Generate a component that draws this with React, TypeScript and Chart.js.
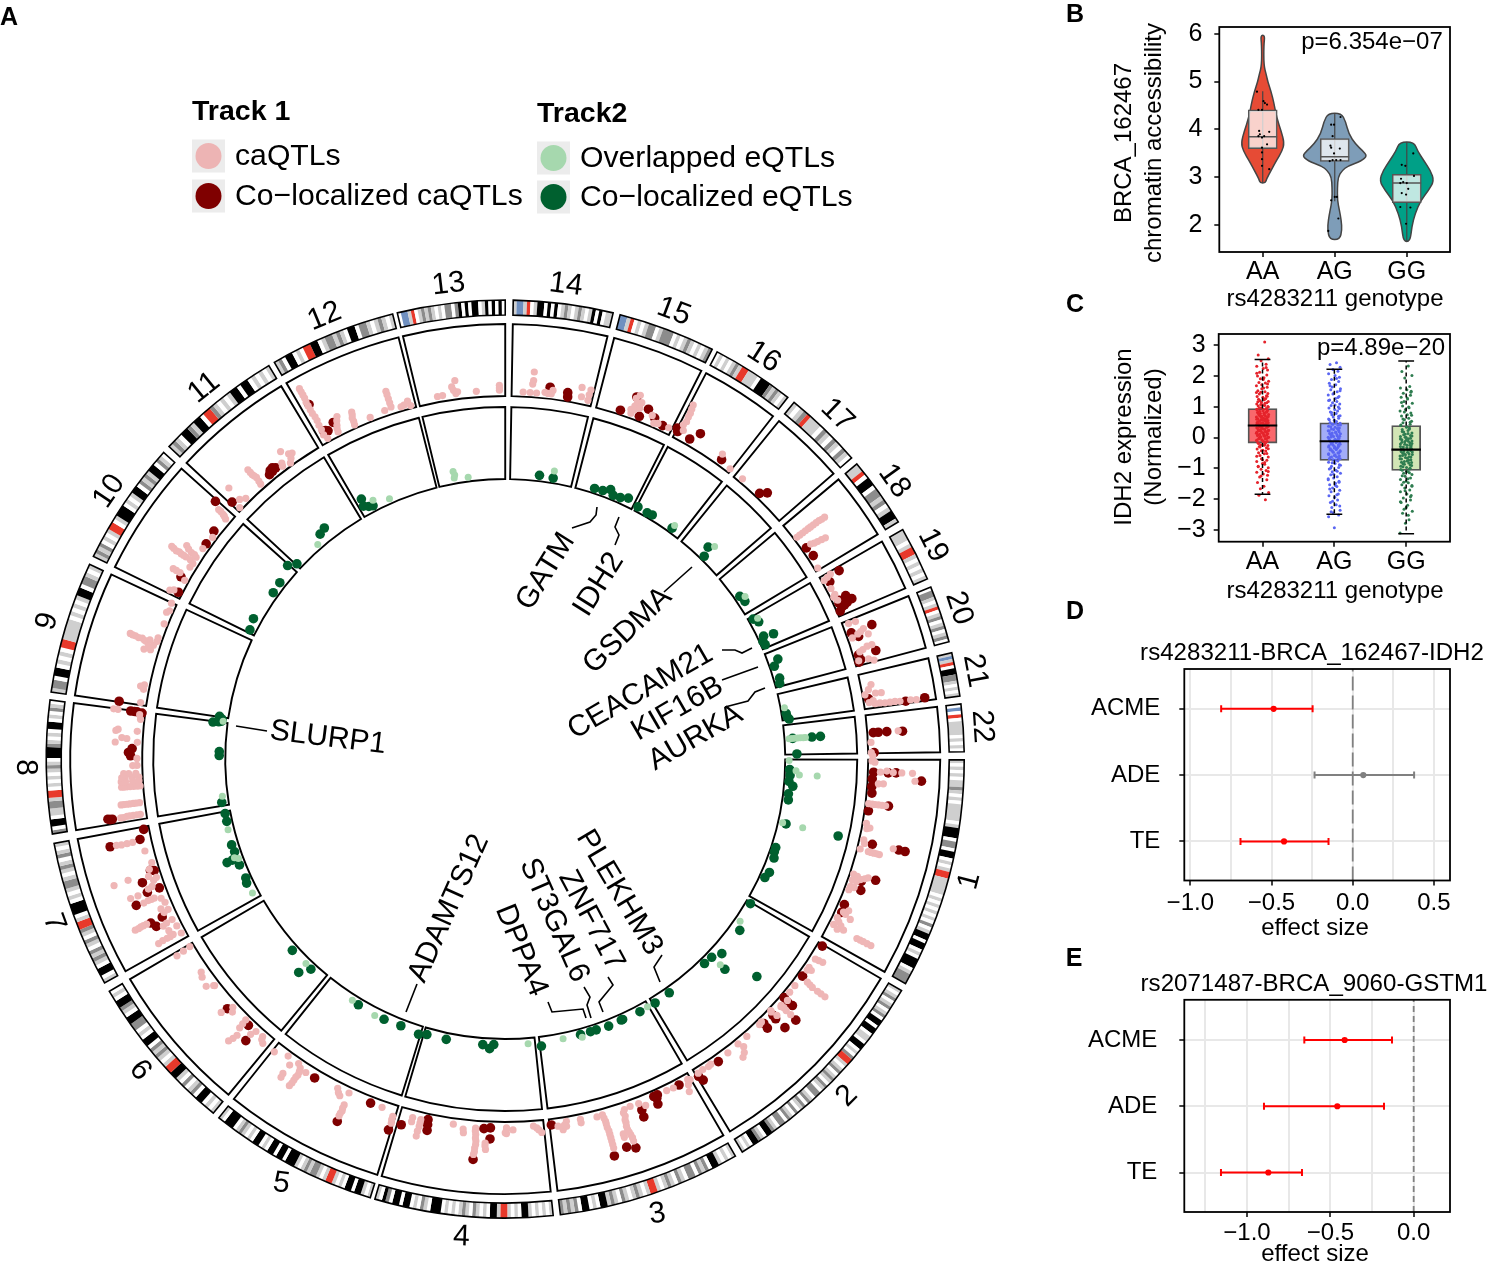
import React, { useEffect, useRef } from "react";
import { Chart, registerables } from "chart.js";
Chart.register(...registerables);

const FONT = '"Liberation Sans", Arial, sans-serif';

// ---------- Panel A: circular genome ----------
const chromNames = ["1","2","3","4","5","6","7","8","9","10","11","12","13","14","15","16","17","18","19","20","21","22"];
const chromStart = [0.1,30.3,59.9,84,107.1,129.5,150.8,170.6,188.4,206.2,222.9,239.8,256.4,271,284.5,297.5,309,320,330,338,346.6,353.1];
const chromEnd = [29.3,58.9,83.1,106.5,128.6,149.6,169.4,187.4,205.1,221.9,239,255.8,270,283.6,296.8,308,319,328.9,336.9,345.2,352.1,359.1];
const chromBands = [
  "lwlwlwllmlwlwlllllwlkkkwmmwkkwlwlrrlllllwlwlwlwlwmwlkkwkkwlwkkkwlmmm",
  "lwlmwlmwlmwkkwkkwllwkkwlwmrrlwlmwlmlwmlwmmwlmwmlwmwlmwmmwlmkkwlmkkwlwl",
  "lwlwlkkwmlmwmmwlmwlmlwlrrlwlmlwlmwlmlkkwlwkkwmlmlm",
  "lwlwlwlkkwlwlrrlkkwlwlmwlmlwlwlwkkkwlmwlwkkwkkwmkwl",
  "lwlkkwkkwlwlrrlwlmmlmlwlkkkwkkwkkwlwkkwlwlmlwkkkwl",
  "lwlwkkwmlwmwlkkrrlwlmlmwkkwlwmmkkwlmkkwlw",
  "lwkkwlmlmwlmwlmrrlwkkkwlwlmmlwlmlwmlwl",
  "mwkkwllmmlrrwlwlwlmlwkkkmlwlwkkwlwmlw",
  "lmmwkkwlwlwrrlllllwlwlwlkkwmmlwl",
  "lmlmwlwlrrwlkkkwlwlkkwmlmlkkwmlw",
  "lmlwkkmlkkwrrmlwlwlkkwkkwlwlwl",
  "lmwkkwlwrrkkwlmmlmlwkkwmmlwlmlwl",
  "wbblrwlmlmlwlwmmwmkwkwkkwlkwkwkw",
  "lbblrwlkkwkwkwlmlwlmlwlkwkwll",
  "bblrwlwlmmwlmmmwlwlmlwlwlm",
  "wlwlwlmlrrlllwkkkmlmlwl",
  "lwlmrlllwmlwmlwmlw",
  "llrwkkwmmlmwlkkl",
  "lllwlrrlwlwlwl",
  "wmmlwlrwlmwlmwlmw",
  "lblrwkkmmlwlwl",
  "wbwrwllllwlwlw",
];

// [genome position on the circle in degrees, height in % of the track]
const caQTLs: number[][] = [
  [0.3,10],[0.5,14],[2,22],[1.8,31],[2,52],[2,67],[3.1,71],[3.75,27],[3.8,20],[2,40],[7,9],[7,14],[7,18],[7,23],[7,28],[7,33],[10.1,10],[10.7,16],[10.9,12],[12.7,11],[13.2,13],[14.2,9],[14.3,21],[14.3,25],[14.3,29],[14.3,33],[14.3,37],[13,54],[18.25,10],[18.4,16],[18.7,22],[18.4,27],[18.1,31],[19.2,11],[19.2,17],[20.2,11.5],[20.8,11],[20.2,17],[23.8,22],[24.9,29],[25.5,11.5],[26.7,11],[26.4,21],[26.8,27],[27.1,18.5],[26,16],[27,49],[27,54],[27,59],[27,65],[27,71],[24.5,20],[24.3,16],
  [32.8,13],[32.6,24],[32.7,18],[34.4,12],[34.9,12],[34.6,17],[36.4,22],[36.6,32],[36.6,41],[36.6,54],[36.6,47],[36.5,27],[38,11],[39.3,11],[41.7,14],[41.8,24],[41.8,32.5],[41.7,19],[43.4,8],[45.7,10],[48.9,11],[50.7,11],[50.3,19],[50.8,26],[51.4,30],[52.8,12],[56.5,12],[56,11],[58.4,12],[57.5,11],[46.2,11],[43.5,10],[41.9,15],[43.3,19],[40.5,16],
  [60,14],[60.6,19],[61,28],[60.3,12],[62.9,13],[64,12],[67.9,19],[68.8,13],[70.2,12.5],[71.2,14],[71.4,23],[71.6,32],[71.7,42],[71.5,50],[71.4,60],[71.5,18],[71.6,28],[71.7,37],[71.6,46],[71.4,55],[72.5,51],[72.5,46],[74.7,12],[74.5,22],[74.5,31],[74.4,41],[74.4,51],[74.4,61],[74.6,17],[74.5,26],[74.4,36],[74.4,46],[74.4,56],[75.6,13],[78.2,16],[78.2,11],[80.4,10],[81.1,21],[80.8,15],[81.8,15],[80.5,17],
  [84.4,21],[85.1,14],[85.6,11],[84.8,17],[88.8,15],[89.8,12],[89.8,20],[89.8,14],[90,19],[94.6,14],[94.5,23],[94.4,32],[94.5,42],[94.6,51],[94.6,18],[94.5,28],[94.4,37],[94.5,47],[93,34],[92.9,43],[93,38],[96.5,17],[96.4,22],[98.1,12],[103.2,14],[103.2,24],[103.3,31],[103.3,38],[103.2,19],[104.5,14],[104.5,20],
  [107.5,20],[107.4,30],[107.5,25],[109.5,13],[115,30],[114.9,39],[115,47],[115,35],[115,43],[117,13],[116.6,18],[116.2,21],[115.1,12],[122.5,16],[124.2,11],[123.6,15],[123.3,25],[123.4,34],[123.5,44],[123.4,20],[123.4,29],[123.4,39],[125.2,20],[126.2,11],[125.3,35],[125.2,41],[128.3,18],
  [131.2,12],[130.5,19],[132.5,13],[132.8,21],[134.9,11],[134.2,35],[134.5,49],[137.7,12],[137.2,17],[138.3,29],[142.1,12],[145,16],[144.3,19],[142.8,22],[142.2,13],[149.1,32],[149.2,21],[149.3,10],[131,16],[134.3,42],[134.8,18],[134.7,25],
  [151.8,11],[153.1,12],[152.2,22],[152.1,32],[152,46],[152.1,39],[152.1,27],[154.3,14],[154.2,23],[154,29],[155.3,49],[155.3,58],[155.2,67],[155.3,54],[155.2,62],[156,13],[157.2,13],[158.4,25],[158.4,34],[158.3,41],[158.4,29],[159.6,45],[159.6,56],[160.2,22],[161.3,12],[161.8,22],[162.2,51],[162.1,72],[163.7,12],[165.7,17],[167.4,31],[167.4,39],[167.5,54],[167.4,47],[158,16],[155.8,20],[153,25],[161,17],[160,28],[156.5,22],[162.8,18],
  [171.4,13],[171.4,23],[171.4,32],[171.3,41],[171.4,18],[171.4,28],[171.3,37],[173.2,12],[173.2,21],[173.2,30],[173.2,38],[173.2,17],[173.2,26],[173.2,34],[175.8,9],[175.8,18],[175.8,27],[175.8,35],[175.8,13],[175.8,23],[175.8,31],[177.2,10],[177.2,19],[177.2,29],[176.6,10],[176.6,19],[176.6,29],[176.6,35],[177.2,34],[177.8,14],[177.8,24],[177.8,31],[179,12],[179,18],[180.1,12],[182.6,12],[184.3,13],[184.4,40],[184.2,43],[183.2,34],[182.5,43],[183.1,27],[186.2,10],[187.3,49],[187.3,43],[186.9,12],
  [191.6,12],[190.9,12],[188.8,13],[201.6,10],[203.4,13],[203.8,10],[199.2,11],[197.1,16],[196.9,25],[198.5,21],[198.4,32],[198.4,42],[198.5,50],[197.9,14],[198.1,25],[198.2,28],[198.3,37],[198.4,46],[198.6,11],[205,12],[197.5,20],[191.3,17],
  [206.7,22],[207,17],[209.8,32],[209.8,21],[209.1,10],[209.8,27],[211.3,13],[212,12],[212.3,25],[212.3,33],[212.3,41],[212.5,50],[212.3,18],[212.3,29],[212.4,37],[212.4,46],[213.1,13],[213.3,22],[213.8,33],[213.3,17],[213.5,28],[214.8,12],[217.1,10],[220.6,12],[220.9,19],[221,28],[220.8,16],[221,24],
  [223.4,8],[225.1,11],[224.3,16],[224.4,38],[228.3,11],[228.5,22],[228.3,29],[228.3,38],[228.4,16],[228.4,26],[228.3,33],[233.8,29],[232.7,11],[234.5,13],[234,8],[235.1,18],[234.6,20],[232.9,15],
  [240.9,89],[240.9,79],[240.8,68],[240.8,56],[240.9,44],[240.8,31],[240.7,16],[241,9],[240.9,84],[240.9,74],[240.8,62],[240.8,50],[240.9,38],[240.8,24],[243.8,30],[243.2,19],[242.9,10],[243.5,25],[243,15],[246.1,27],[245.8,19],[245.7,9],[246,23],[245.8,14],[248.4,10],[252,37],[252,26],[252,14],[252,32],[252,20],[250.9,12],[253.5,10],[254.7,15],[255,8],[254,11],
  [259.4,12],[260.2,12],[261.8,22],[262.4,30],[262.3,12],[262.6,14],[262,17],[265.5,12],[269.1,19],[269.1,12],[269.1,15],
  [274.3,39],[274.3,27],[274.2,22],[273.9,10],[274.9,10],[276.2,12],[277.4,16],[276.7,11],[277.2,11],[281.7,27],[283.1,26],[283,11],[281.9,14],[283,19],[272.8,10],
  [290.4,39],[290.4,27],[290.3,17],[290,11],[290.2,22],[289.8,16],[290,33],[293.2,19],[293.9,10],[296.3,13],[291,22],[291,30],[294.5,12],
  [298,57],[298.2,45],[298.3,32],[298.1,26],[298.1,51],[298.2,39],[305.5,20],[307.8,10],[298.5,19],[310.3,10],
  [322.9,57],[322.8,48],[322.8,38],[322.8,29],[322.8,19],[322.8,9],[322.9,52],[322.8,43],[322.8,33],[322.8,24],[322.8,14],[324.9,19],[325.2,29],[325.4,41],[325.1,24],[325.3,35],[328.6,9],
  [330.4,20],[330.8,8],[332.4,11],[333.8,9],[333.5,12],[330.6,14],[334.5,12],
  [338.6,23],[338.5,13],[340,30],[341,34],[340.8,11],[342.7,34],[342.7,27],[345,31],[340.5,20],[340.3,25],[343,20],[343.2,15],[344.5,10],[344.6,24],
  [348.5,19],[349.2,14],[350,31],[349.9,23],[349.9,8],[351.5,27],[351.6,41],[351.7,55],[351.8,78],[351.6,34],[351.6,48],[351.2,12],[351,18],[351.7,70],[351.5,20],
  [355.9,48],[357.4,9],[359,9],[359.5,11],
];
const coCaQTLs: number[][] = [
  [2.05,12.5],[2.07,33],[2.03,44],[3.04,80],[3.09,11],[4.3,11],[5.3,12],[7,37],[8.1,10],[13.06,24],[13,62],[13,71],[18.95,23.5],[18.1,42],[20.25,27],[23.2,13],[24.46,14],
  [30.5,11.6],[36.1,11.6],[40.5,10],[40.7,18],[40.6,26],[43.7,15],[43.8,21],[41.9,43],[45.6,14],[45.7,22],[43.8,39],[54.8,14],[58.6,16],[58.3,24],
  [61.9,13],[65.6,12],[66.2,12],[66.1,24],[65.9,16],[68.7,23],[68.8,33],[71.4,70],[72.6,65],[74.6,72],[82.8,12],
  [92.3,28],[92.3,12.5],[93.3,14],[94.6,58],[102.1,12],[102,19],[101.9,27],[105.9,28],
  [107.5,40],[111.4,13],[114.9,55],[120.9,16],[138.1,19],[134,14],[132.7,32],
  [155.2,43],[154.4,38],[155.3,25],[158.4,52],[159.6,31],[159.6,13],[161.2,33],[162.6,17],[162.4,12],[167.6,20],[167.5,63],[169,12],
  [171.3,53],[171.4,59],[171.3,56],[181.6,19],[180.5,21],[181,24],[187.3,25],[187.3,16],[187.2,9],[187.3,20],[188.5,43],
  [207,10],[209.3,17],[215.7,12],[218,14],[221.6,39],
  [223.2,21],[230.3,13],[231.7,15],[231,14],[230.8,17],[231.3,18],
  [241,63],[242.9,25],[241,21],[241.6,18],[241.3,20],
  [276.9,20],[279.7,16],[279.8,10],
  [290,35],[288.3,10],[291.4,11],[292.3,25],[293.7,17],[295.3,12],
  [297.5,18],[298,18],[297.8,14],[300,13],[301,27],[305.9,13],[313.8,11],[314.6,19],[325,11],[326.6,13],
  [330.6,33],[331.4,14],[334.4,25],[335.2,31],[335,12],[335.7,14],[336.2,9],[335.4,23],[334.6,14],[335.6,18],
  [339.9,43],[340,12],[340.9,20],[343.7,37],[343.6,12],[344.4,13],[344.7,10],
  [350.6,12],[351.8,63],[351.7,90],[355.9,13],[355.9,20],[355.9,32],[356,54],[359,13],
];
const overlappedEQTLs: number[][] = [
  [2.3,19],[3.1,24],[3.1,49],[13,39],[12.9,10],[0.3,9],[34.6,11],[43.7,28],[60.1,11],[78.3,11],[74.5,15],[85.4,11],[117,14],[122.4,11],[134.3,11],[152.1,12],[159.6,10],[160,15],[165.7,12],[172.5,11],[187.6,10],[228.8,10],[242.9,18],[246,10],[259.7,20],[259.7,11],[259.9,15],[262.5,9],[279.7,20],[306,15],[314.6,29],[325.9,17],[330.9,16],[349.6,9],[355.9,10],[355.9,18],[355.9,26],[355.9,33],[355.9,14],[355.9,22],[355.9,30],
];
const coEQTLs: number[][] = [
  [2.1,10],[3.3,11],[4.5,10],[5.4,16],[7,11],[8.2,12],[13,15],[13,90],[18.1,10],[19,10],[20.2,12.5],[23.2,14],[24.5,11],
  [30.5,10],[36.1,18],[40.8,77],[41.9,19],[43.8,12],[45.7,11],[43.7,37],[54.9,11],[58.4,12],
  [61.9,12],[65.7,11],[66,11],[68.8,12],[71.4,11],[72.6,11],[74.7,11],[82.8,16],
  [92.3,11],[93.1,17],[94.5,12],[101.9,12],[105.9,12],[107.5,15],[111.4,12],[115,13],[120.9,12],
  [132.8,12],[134.1,27],[138.1,12],
  [154.4,13],[155.4,11],[158.3,12],[159.7,19],[159.6,27],[161.1,12],[162.6,13],[167.4,11],[169,11],
  [171.3,13],[180.7,12],[181.5,12],[187.6,12],[188.5,16],[187.2,24],[187.4,16],[188,12],
  [206.8,12],[209.1,15],[215.6,11],[218,12],[221.6,19],[223.1,11],[231.9,22],[230.5,19],
  [241,27],[241.6,13],[240.7,17],[242.4,11],[276.9,11],[279.7,10],
  [288.3,10],[290,11],[291.4,16],[292.3,10],[293.8,11],[295.3,15],[297.8,10],[300,9],[301.1,10],[305.9,10],
  [313.8,22],[314.5,9],[325.3,11],[326.7,13],
  [330.6,10],[331.6,15],[334.6,12],[335,26],[335.5,8],[336.3,9],
  [339.9,18],[341,10],[343.6,12],[344.6,10],[350.8,10],[351.6,11],[352,13],
  [355.9,15],[355.9,42],[355.9,54],[359,20],
];

const geneLabels = [
  { t: "SLURP1", x: 328, y: 737, r: 7 },
  { t: "GATM", x: 545, y: 571, r: -58 },
  { t: "IDH2", x: 598, y: 584, r: -58 },
  { t: "GSDMA", x: 627, y: 630, r: -44 },
  { t: "CEACAM21", x: 640, y: 691, r: -30 },
  { t: "KIF16B", x: 677, y: 708, r: -30 },
  { t: "AURKA", x: 695, y: 737, r: -30 },
  { t: "PLEKHM3", x: 620, y: 892, r: 59 },
  { t: "ZNF717", x: 592, y: 920, r: 62 },
  { t: "ST3GAL6", x: 555, y: 920, r: 66 },
  { t: "DPPA4", x: 522, y: 950, r: 68 },
  { t: "ADAMTS12", x: 448, y: 908, r: -66 },
];
const geneLinks = [
  [[236,726],[267,731]],
  [[597,507],[596,515],[590,522],[572,528]],
  [[619,517],[615,527],[619,535],[615,545]],
  [[692,567],[664,592]],
  [[722,650],[735,650],[742,653],[752,648]],
  [[722,680],[758,667]],
  [[725,707],[748,701],[755,692],[765,688]],
  [[660,982],[654,967],[662,955]],
  [[603,1012],[599,1002],[613,985],[608,977]],
  [[591,1018],[587,1005],[590,997],[584,987]],
  [[586,1018],[583,1009],[552,1012],[548,1002]],
  [[406,1012],[417,984]],
];

// ---------- Panel B ----------
const genotypes = ["AA", "AG", "GG"];
const violinValues = [
  [5.97,5.76,5.34,5.14,5.0,4.79,4.59,4.24,3.97,3.72,3.55,3.34,3.14,2.97,2.88],
  [4.34,4.17,3.9,3.69,3.55,3.45,3.34,3.24,3.14,3.0,2.79,2.52,2.31,2.1,1.9,1.7],
  [3.74,3.55,3.34,3.14,2.93,2.72,2.52,2.24,1.97,1.66],
];
const violinWidths = [
  [0.03,0.015,0.015,0.05,0.07,0.115,0.15,0.195,0.255,0.3,0.27,0.185,0.115,0.055,0.035],
  [0.09,0.15,0.195,0.29,0.39,0.45,0.37,0.185,0.1,0.046,0.037,0.037,0.065,0.09,0.1,0.07],
  [0.1,0.15,0.24,0.33,0.38,0.3,0.195,0.115,0.07,0.046],
];
const violinColors = ["#E64B35", "#7E9DB8", "#00A087"];
const accessQ1 = [3.6, 3.33, 2.47];
const accessMedian = [3.85, 3.43, 2.88];
const accessQ3 = [4.41, 3.81, 3.06];
const accessLow = [2.88, 2.5, 1.66];
const accessHigh = [4.8, 4.34, 3.74];
const accessDots = [
  [[0.01,4.59],[0.03,4.55],[0.06,4.52],[-0.08,4.79],[-0.06,4.41],[-0.01,4.41],[-0.05,3.97],[0.09,3.95],[-0.04,3.9],[0.02,3.86],[-0.01,3.83],[-0.06,3.86],[0.06,3.69],[-0.01,3.62],[-0.01,3.52],[-0.01,3.38],[-0.01,3.24],[0.09,3.17]],
  [[-0.05,4.1],[-0.01,4.1],[0.08,4.26],[-0.03,3.86],[-0.06,3.66],[-0.05,3.62],[0.07,3.6],[-0.01,3.5],[-0.03,3.36],[0.02,3.36],[0.08,3.36],[-0.07,3.34],[0,2.59],[0.03,2.59],[0.05,2.14],[-0.09,1.88],[-0.05,2.52]],
  [[0.09,3.5],[-0.07,3.26],[-0.02,3.24],[0.1,3.03],[-0.08,2.97],[-0.05,2.9],[-0.09,2.88],[0,2.88],[-0.07,2.67],[-0.01,2.64],[0.02,2.76],[-0.09,2.38],[0.05,2.37],[-0.01,2.03]],
];

// ---------- Panel C ----------
const exprQ1 = [-0.18, -0.74, -1.07];
const exprMedian = [0.39, -0.12, -0.39];
const exprQ3 = [0.94, 0.48, 0.39];
const exprLow = [-1.84, -2.49, -3.12];
const exprHigh = [2.53, 2.22, 2.48];
const exprColors = ["#e5232b", "#5a66f2", "#2f7d50"];
const exprFills = ["#f9686c", "#a2acf8", "#d2e5b5"];
const exprJitter = [0.03,-0.06,0.08,-0.02,0.05,-0.08,0.01,0.07,-0.04,0.06,-0.07,0.02,-0.03,0.085,-0.05,0.04,-0.01,-0.085,0.065,0.015,-0.065,0.035,-0.025,0.075,-0.045,0.055,-0.075,0.005,0.045,-0.055,0.025,-0.035,0.08,-0.015,0.06,-0.08,0.0];
const exprAA = [3.1,2.68,2.56,2.49,2.38,2.31,2.24,2.19,2.12,2.03,2.0,1.94,1.91,1.83,1.79,1.77,1.71,1.68,1.63,1.61,1.52,1.49,1.47,1.43,1.41,1.36,1.33,1.31,1.27,1.24,1.23,1.19,1.17,1.14,1.13,1.09,1.06,1.04,1.02,0.99,0.97,0.94,0.92,0.91,0.88,0.85,0.83,0.81,0.79,0.78,0.75,0.73,0.71,0.69,0.67,0.66,0.63,0.61,0.6,0.57,0.55,0.53,0.52,0.49,0.47,0.45,0.43,0.41,0.39,0.37,0.35,0.33,0.32,0.29,0.27,0.25,0.23,0.21,0.19,0.17,0.15,0.13,0.11,0.09,0.07,0.05,0.03,0.01,-0.02,-0.04,-0.07,-0.1,-0.13,-0.14,-0.17,-0.2,-0.23,-0.26,-0.29,-0.33,-0.37,-0.41,-0.44,-0.49,-0.53,-0.58,-0.63,-0.69,-0.74,-0.78,-0.84,-0.87,-0.93,-0.98,-1.03,-1.07,-1.13,-1.18,-1.22,-1.28,-1.37,-1.46,-1.58,-1.66,-1.78,-1.87,-2.02];
const exprAAcore = [1.58,1.46,1.34,1.26,1.16,1.11,1.07,1.01,0.96,0.93,0.89,0.87,0.82,0.77,0.74,0.7,0.68,0.65,0.62,0.59,0.56,0.54,0.51,0.48,0.46,0.44,0.42,0.4,0.38,0.36,0.34,0.31,0.28,0.26,0.24,0.22,0.2,0.16,0.14,0.12,0.1,0.08,0.04,0.02,0,-0.03,-0.05,-0.08,-0.11,-0.16,-0.19,-0.25,-0.31,-0.36,-0.43,-0.52,-0.61,-0.72,-0.81,-0.95,-1.1,-1.25,2.27,2.09,1.88,1.74];
const exprAG = [2.43,2.37,2.28,2.21,2.15,2.07,2.01,1.96,1.88,1.82,1.76,1.71,1.64,1.58,1.55,1.49,1.43,1.38,1.33,1.27,1.22,1.17,1.13,1.09,1.04,0.99,0.96,0.91,0.86,0.83,0.78,0.74,0.71,0.67,0.63,0.6,0.56,0.52,0.49,0.46,0.43,0.4,0.37,0.33,0.31,0.28,0.24,0.21,0.18,0.15,0.12,0.09,0.06,0.03,0.01,-0.03,-0.06,-0.09,-0.12,-0.15,-0.18,-0.21,-0.24,-0.27,-0.3,-0.33,-0.36,-0.39,-0.42,-0.45,-0.48,-0.51,-0.55,-0.58,-0.62,-0.65,-0.69,-0.72,-0.76,-0.8,-0.84,-0.88,-0.93,-0.97,-1.02,-1.06,-1.11,-1.16,-1.21,-1.27,-1.31,-1.37,-1.42,-1.48,-1.53,-1.59,-1.64,-1.71,-1.76,-1.83,-1.89,-1.94,-2.03,-2.11,-2.18,-2.27,-2.36,-2.44,-2.51,-2.57,-2.93];
const exprAGcore = [1.92,1.68,1.52,1.41,1.3,1.2,1.06,0.94,0.81,0.69,0.58,0.47,0.44,0.41,0.35,0.29,0.26,0.22,0.19,0.16,0.13,0.1,0.07,0.04,0.02,-0.01,-0.04,-0.07,-0.1,-0.13,-0.16,-0.19,-0.22,-0.25,-0.28,-0.31,-0.34,-0.37,-0.4,-0.43,-0.46,-0.49,-0.53,-0.56,-0.6,-0.63,-0.67,-0.7,-0.74,-0.82,-0.9,-0.99,-1.09,-1.19,-1.34,-1.45,-1.56,-1.67,-1.86,-2.07,-2.22,-2.41];
const exprGG = [2.32,2.14,2.01,1.93,1.66,1.61,1.55,1.5,1.44,1.37,1.31,1.25,1.17,1.11,1.02,0.97,0.91,0.86,0.8,0.74,0.7,0.63,0.58,0.53,0.48,0.43,0.39,0.35,0.31,0.26,0.23,0.18,0.15,0.11,0.07,0.03,0,-0.04,-0.07,-0.11,-0.14,-0.17,-0.21,-0.24,-0.27,-0.31,-0.34,-0.37,-0.4,-0.43,-0.47,-0.5,-0.53,-0.56,-0.6,-0.63,-0.67,-0.7,-0.74,-0.78,-0.81,-0.85,-0.89,-0.93,-0.97,-1.02,-1.06,-1.11,-1.16,-1.2,-1.26,-1.31,-1.36,-1.42,-1.47,-1.53,-1.58,-1.64,-1.7,-1.76,-1.83,-1.88,-1.96,-2.03,-2.11,-2.2,-2.33,-2.39,-2.46,-2.67,-2.78,-3.1];
const exprGGcore = [1.47,1.28,1.14,0.99,0.83,0.72,0.6,0.5,0.41,0.33,0.28,0.2,0.13,0.09,0.05,0.01,-0.02,-0.05,-0.09,-0.12,-0.15,-0.19,-0.22,-0.25,-0.29,-0.32,-0.35,-0.38,-0.42,-0.45,-0.48,-0.52,-0.55,-0.58,-0.62,-0.65,-0.69,-0.72,-0.76,-0.8,-0.83,-0.87,-0.91,-0.95,-1.0,-1.04,-1.09,-1.14,-1.24,-1.34,-1.45,-1.56,-1.73,-1.92,-2.08,-2.27,-2.52];
const exprPoints = [[...exprAA, ...exprAAcore], [...exprAG, ...exprAGcore], [...exprGG, ...exprGGcore]];

// ---------- Panels D, E ----------
const effectLabels = ["TE", "ADE", "ACME"];
const effectD = [-0.423, 0.065, -0.487];
const lowD = [-0.691, -0.235, -0.81];
const highD = [-0.149, 0.378, -0.247];
const colorD = ["#ff0000", "#808080", "#ff0000"];
const effectE = [-0.872, -0.458, -0.414];
const lowE = [-1.156, -0.898, -0.656];
const highE = [-0.67, -0.178, -0.13];
const colorE = ["#ff0000", "#ff0000", "#ff0000"];
const ticksDX = [-1, -0.75, -0.5, -0.25, 0, 0.25, 0.5];
const ticksEX = [-1.25, -1, -0.75, -0.5, -0.25, 0];

// ---------- helpers ----------
const minus = (s: string) => s.replace("-", "\u2212");
const AXIS_W = 100;
const AXIS_H = 45;

function text(ctx: any, s: string, x: number, y: number, font: string, rot = 0, align = "center", color = "#000") {
  ctx.save();
  ctx.translate(x, y);
  ctx.rotate((rot * Math.PI) / 180);
  ctx.font = font;
  ctx.fillStyle = color;
  ctx.textAlign = align;
  ctx.textBaseline = "middle";
  ctx.fillText(s, 0, 1);
  ctx.restore();
}

function axis(o: any) {
  const horizontal = o.horizontal;
  return {
    type: "linear",
    min: o.min,
    max: o.max,
    reverse: !!o.reverse,
    offset: false,
    afterBuildTicks: (s: any) => {
      if (o.ticks) s.ticks = o.ticks.map((v: number) => ({ value: v }));
    },
    afterFit: (s: any) => {
      if (horizontal) s.height = AXIS_H;
      else s.width = AXIS_W;
    },
    ticks: {
      callback: o.fmt,
      autoSkip: false,
      maxRotation: 0,
      minRotation: 0,
      padding: o.pad,
      color: "#000",
      font: { family: FONT, size: o.size || 25 },
    },
    grid: {
      offset: false,
      drawOnChartArea: !!o.gridColor,
      color: o.gridColor || "#fff",
      lineWidth: 2,
      drawTicks: true,
      tickLength: 5,
      tickWidth: 1.5,
      tickColor: (c: any) => (o.isMinor && o.isMinor(c.tick && c.tick.value) ? "rgba(0,0,0,0)" : "#000"),
    },
    border: { display: false },
  };
}

const seg = (x1: number, y1: number, x2: number, y2: number, color: string, width: number, order: number, dash?: number[]) => ({
  type: "scatter",
  showLine: true,
  data: [{ x: x1, y: y1 }, { x: x2, y: y2 }],
  borderColor: color,
  borderWidth: width,
  borderDash: dash || [],
  pointRadius: 0,
  order,
});

const framePlugin = {
  id: "frame",
  afterDatasetsDraw(chart: any) {
    const { ctx, chartArea: a } = chart;
    ctx.save();
    ctx.strokeStyle = "#000";
    ctx.lineWidth = 1.8;
    ctx.strokeRect(a.left, a.top, a.right - a.left, a.bottom - a.top);
    ctx.restore();
  },
};

const textPlugin = (items: any[]) => ({
  id: "texts",
  afterDraw(chart: any) {
    const r = chart.canvas.getBoundingClientRect();
    items.forEach((i) => text(chart.ctx, i.t, i.x - r.left - window.scrollX, i.y - r.top - window.scrollY, i.f, i.r || 0));
  },
});

function Canvas({ rect, build }: { rect: number[]; build: (c: HTMLCanvasElement) => Chart }) {
  const ref = useRef<HTMLCanvasElement>(null);
  useEffect(() => {
    const chart = build(ref.current as HTMLCanvasElement);
    return () => chart.destroy();
  }, []);
  return (
    <canvas
      ref={ref}
      width={rect[2]}
      height={rect[3]}
      style={{ position: "absolute", left: rect[0], top: rect[1], width: rect[2], height: rect[3] }}
    />
  );
}

function baseOptions(rect: number[], plot: number[], x: any, y: any) {
  return {
    responsive: false,
    animation: false,
    events: [],
    layout: {
      padding: {
        left: plot[0] - rect[0] - AXIS_W,
        top: plot[1] - rect[1],
        right: rect[0] + rect[2] - plot[2],
        bottom: rect[1] + rect[3] - plot[3] - AXIS_H,
      },
    },
    plugins: { legend: { display: false }, title: { display: false }, tooltip: { enabled: false } },
    scales: { x, y },
  };
}

// ---------- circular chart ----------
const CX = 505, CY = 760;
const IDEO = [444, 459];
const TRACK1 = [363, 435];
const TRACK2 = [280, 352];
const rad = (d: number) => (d * Math.PI) / 180;
const toXY = (deg: number, pct: number, t: number[]) => {
  const r = t[0] + ((t[1] - t[0]) * pct) / 100;
  return { x: CX + r * Math.cos(rad(deg)), y: CY + r * Math.sin(rad(deg)) };
};
const bandColor: any = { l: "#cfcfcf", w: "#ffffff", m: "#8c8c8c", k: "#000000", r: "#e8392b", b: "#7090c0" };

const circosPlugin = {
  id: "circos",
  beforeDatasetsDraw(chart: any) {
    const { ctx, scales } = chart;
    const cx = scales.x.getPixelForValue(CX);
    const cy = scales.y.getPixelForValue(CY);
    const sector = (a0: number, a1: number, t: number[]) => {
      ctx.beginPath();
      ctx.arc(cx, cy, t[1], rad(a0), rad(a1));
      ctx.arc(cx, cy, t[0], rad(a1), rad(a0), true);
      ctx.closePath();
    };
    chromNames.forEach((name, i) => {
      const a0 = chromStart[i], a1 = chromEnd[i];
      const bands = chromBands[i];
      const step = (a1 - a0) / bands.length;
      for (let k = 0; k < bands.length; ) {
        let e = k + 1;
        while (e < bands.length && bands[e] === bands[k]) e++;
        sector(a0 + k * step, a0 + e * step, IDEO);
        ctx.fillStyle = bandColor[bands[k]];
        ctx.fill();
        k = e;
      }
      ctx.strokeStyle = "#000";
      ctx.lineWidth = 1.6;
      sector(a0, a1, IDEO);
      ctx.stroke();
      ctx.lineWidth = 1.9;
      sector(a0, a1, TRACK1);
      ctx.stroke();
      sector(a0, a1, TRACK2);
      ctx.stroke();
      const mid = (a0 + a1) / 2;
      const rot = i === 2 ? -8 : i === 3 ? 2 : i === 4 ? 8 : mid < 180 ? mid - 90 : mid + 90;
      text(ctx, name, cx + 479 * Math.cos(rad(mid)), cy + 479 * Math.sin(rad(mid)), `30px ${FONT}`, rot);
    });
  },
  afterDatasetsDraw(chart: any) {
    const { ctx } = chart;
    ctx.save();
    ctx.strokeStyle = "#000";
    ctx.lineWidth = 1.6;
    geneLinks.forEach((l) => {
      ctx.beginPath();
      l.forEach((p, i) => (i ? ctx.lineTo(p[0], p[1]) : ctx.moveTo(p[0], p[1])));
      ctx.stroke();
    });
    ctx.restore();
    geneLabels.forEach((g) => text(ctx, g.t, g.x, g.y, `30px ${FONT}`, g.r));

    text(ctx, "A", 9, 17, `bold 25px ${FONT}`);
    text(ctx, "Track 1", 192, 111, `bold 28.5px ${FONT}`, 0, "left");
    text(ctx, "Track2", 537, 113, `bold 28.5px ${FONT}`, 0, "left");
    const key = (x: number, y: number, color: string, label: string) => {
      ctx.fillStyle = "#ececec";
      ctx.fillRect(x, y - 16.5, 33, 33);
      ctx.fillStyle = color;
      ctx.beginPath();
      ctx.arc(x + 16.5, y, 13, 0, Math.PI * 2);
      ctx.fill();
      text(ctx, label, x + 43, y, `30.2px ${FONT}`, 0, "left");
    };
    key(192, 156, "#edb4b4", "caQTLs");
    key(192, 196, "#7f0000", "Co\u2212localized caQTLs");
    key(537, 158, "#a6d8ae", "Overlapped eQTLs");
    key(537, 197, "#00602f", "Co\u2212localized eQTLs");
  },
};

function buildCircos(canvas: HTMLCanvasElement) {
  const rect = [0, 0, 1060, 1265];
  const points = (d: number[][], t: number[], color: string, r: number) => ({
    data: d.map((p) => toXY(p[0], p[1], t)),
    backgroundColor: color,
    pointBackgroundColor: color,
    pointBorderWidth: 0,
    pointRadius: r,
  });
  return new Chart(canvas, {
    type: "scatter",
    data: {
      datasets: [
        points(caQTLs, TRACK1, "#efb6b6", 3.6),
        points(coCaQTLs, TRACK1, "#7f0000", 4.8),
        points(overlappedEQTLs, TRACK2, "#a6d8ae", 3.5),
        points(coEQTLs, TRACK2, "#00602f", 4.8),
      ],
    },
    options: {
      responsive: false,
      animation: false,
      events: [],
      layout: { padding: 0 },
      plugins: { legend: { display: false }, tooltip: { enabled: false } },
      scales: {
        x: { type: "linear", min: 0, max: rect[2], display: false },
        y: { type: "linear", min: 0, max: rect[3], reverse: true, display: false },
      },
    },
    plugins: [circosPlugin],
  } as any);
}

// ---------- violin panel ----------
const violinPlugin = {
  id: "violins",
  beforeDatasetsDraw(chart: any) {
    const { ctx, scales } = chart;
    violinValues.forEach((vals, g) => {
      const pts: number[][] = [];
      vals.forEach((v, i) => pts.push([g + 1 - violinWidths[g][i], v]));
      for (let i = vals.length - 1; i >= 0; i--) pts.push([g + 1 + violinWidths[g][i], vals[i]]);
      const px = pts.map((p) => [scales.x.getPixelForValue(p[0]), scales.y.getPixelForValue(p[1])]);
      ctx.beginPath();
      const n = px.length;
      ctx.moveTo((px[n - 1][0] + px[0][0]) / 2, (px[n - 1][1] + px[0][1]) / 2);
      for (let i = 0; i < n; i++) {
        const q = px[(i + 1) % n];
        ctx.quadraticCurveTo(px[i][0], px[i][1], (px[i][0] + q[0]) / 2, (px[i][1] + q[1]) / 2);
      }
      ctx.closePath();
      ctx.fillStyle = violinColors[g];
      ctx.fill();
      ctx.strokeStyle = "#444";
      ctx.lineWidth = 1.5;
      ctx.stroke();
    });
  },
};

const ticksInt = (v: number) => minus(String(v));
const genoFmt = (v: number) => genotypes[v - 1];

function buildB(canvas: HTMLCanvasElement, rect: number[]) {
  const plot = [1219.3, 25, 1450, 252];
  const datasets: any[] = [];
  genotypes.forEach((_, g) => {
    const x = g + 1;
    datasets.push(seg(x, accessLow[g], x, accessHigh[g], "#444", 1.2, 6));
    datasets.push({
      type: "bar",
      grouped: false,
      data: [{ x, y: [accessQ1[g], accessQ3[g]] }],
      backgroundColor: "rgba(255,255,255,0.75)",
      borderColor: "#555",
      borderWidth: 1.5,
      borderSkipped: false,
      barThickness: 29,
      order: 5,
    });
    datasets.push(seg(x - 0.2, accessMedian[g], x + 0.2, accessMedian[g], "#555", 1.5, 4));
    datasets.push({
      data: accessDots[g].map((d) => ({ x: x + d[0], y: d[1] })),
      backgroundColor: "#000",
      pointBackgroundColor: "#000",
      pointBorderWidth: 0,
      pointRadius: 1.1,
      order: 3,
    });
  });
  const x = axis({ horizontal: true, min: 0.397, max: 3.6, ticks: [1, 2, 3], fmt: genoFmt, pad: 0 });
  const y = axis({ min: 1.44, max: 6.14, ticks: [2, 3, 4, 5, 6], fmt: ticksInt, pad: 12 });
  return new Chart(canvas, {
    type: "scatter",
    data: { datasets },
    options: baseOptions(rect, plot, x, y),
    plugins: [
      violinPlugin,
      framePlugin,
      textPlugin([
        { t: "B", x: 1075, y: 14, f: `bold 25px ${FONT}` },
        { t: "p=6.354e\u221207", x: 1372, y: 41, f: `24px ${FONT}` },
        { t: "rs4283211 genotype", x: 1335, y: 298, f: `24px ${FONT}` },
        { t: "BRCA_162467", x: 1123, y: 143, f: `24px ${FONT}`, r: -90 },
        { t: "chromatin accessibility", x: 1153, y: 143, f: `24px ${FONT}`, r: -90 },
      ]),
    ],
  } as any);
}

function buildC(canvas: HTMLCanvasElement, rect: number[]) {
  const plot = [1218.7, 334, 1450, 541.7];
  const datasets: any[] = [];
  genotypes.forEach((_, g) => {
    const x = g + 1;
    datasets.push({
      type: "bar",
      grouped: false,
      data: [{ x, y: [exprQ1[g], exprQ3[g]] }],
      backgroundColor: exprFills[g],
      borderColor: "#555",
      borderWidth: 1.8,
      borderSkipped: false,
      barThickness: 29,
      order: 6,
    });
    datasets.push({
      data: exprPoints[g].map((v, i) => ({ x: x + exprJitter[i % exprJitter.length], y: v })),
      backgroundColor: exprColors[g],
      pointBackgroundColor: exprColors[g],
      pointBorderWidth: 0,
      pointRadius: 1.5,
      order: 5,
    });
    datasets.push(seg(x, exprQ3[g], x, exprHigh[g], "#000", 1.5, 4, [4, 3]));
    datasets.push(seg(x, exprQ1[g], x, exprLow[g], "#000", 1.5, 4, [4, 3]));
    datasets.push(seg(x - 0.11, exprHigh[g], x + 0.11, exprHigh[g], "#000", 1.5, 3));
    datasets.push(seg(x - 0.11, exprLow[g], x + 0.11, exprLow[g], "#000", 1.5, 3));
    datasets.push(seg(x - 0.205, exprMedian[g], x + 0.205, exprMedian[g], "#000", 2.2, 2));
  });
  const x = axis({ horizontal: true, min: 0.39, max: 3.61, ticks: [1, 2, 3], fmt: genoFmt, pad: 0 });
  const y = axis({ min: -3.38, max: 3.36, ticks: [-3, -2, -1, 0, 1, 2, 3], fmt: ticksInt, pad: 8 });
  return new Chart(canvas, {
    type: "scatter",
    data: { datasets },
    options: baseOptions(rect, plot, x, y),
    plugins: [
      framePlugin,
      textPlugin([
        { t: "C", x: 1075, y: 304, f: `bold 25px ${FONT}` },
        { t: "p=4.89e\u221220", x: 1381, y: 347, f: `24px ${FONT}` },
        { t: "rs4283211 genotype", x: 1335, y: 590, f: `24px ${FONT}` },
        { t: "IDH2 expression", x: 1123, y: 437, f: `24px ${FONT}`, r: -90 },
        { t: "(Normalized)", x: 1153, y: 437, f: `24px ${FONT}`, r: -90 },
      ]),
    ],
  } as any);
}

function buildEffect(canvas: HTMLCanvasElement, rect: number[], p: any) {
  const datasets: any[] = [];
  datasets.push(seg(0, p.ymin, 0, p.ymax, "#808080", 1.8, 5, p.dash));
  p.effect.forEach((v: number, i: number) => {
    const y = i + 1;
    datasets.push(seg(p.low[i], y, p.high[i], y, p.color[i], 2, 3));
    datasets.push({
      data: [{ x: p.low[i], y }, { x: p.high[i], y }],
      pointStyle: "line",
      rotation: 90,
      pointRadius: 3.5,
      pointBorderWidth: 2,
      pointBorderColor: p.color[i],
      borderColor: p.color[i],
      order: 2,
    });
    datasets.push({
      data: [{ x: v, y }],
      backgroundColor: p.color[i],
      pointBackgroundColor: p.color[i],
      pointBorderWidth: 0,
      pointRadius: 3.1,
      order: 1,
    });
  });
  const major = (v: number) => Math.abs(v * 2 - Math.round(v * 2)) < 1e-6;
  const x = axis({
    horizontal: true,
    min: p.xmin,
    max: p.xmax,
    ticks: p.xticks,
    fmt: (v: number) => (major(v) ? minus(v.toFixed(1)) : ""),
    isMinor: (v: number) => !major(v),
    gridColor: "#e8e8e8",
    pad: p.xpad,
    size: 24,
  });
  const y = axis({
    min: p.ymin,
    max: p.ymax,
    ticks: [1, 2, 3],
    fmt: (v: number) => effectLabels[v - 1],
    gridColor: "#e8e8e8",
    pad: p.ypad,
    size: 24,
  });
  return new Chart(canvas, {
    type: "scatter",
    data: { datasets },
    options: baseOptions(rect, p.plot, x, y),
    plugins: [framePlugin, textPlugin(p.texts)],
  } as any);
}

const rectB = [1062, 0, 427, 315];
const rectC = [1062, 292, 427, 315];
const rectD = [1062, 600, 427, 345];
const rectE = [1062, 945, 427, 320];

export default function App() {
  return (
    <div style={{ position: "absolute", left: 0, top: 0, width: 1489, height: 1265, background: "#fff", overflow: "hidden" }}>
      <Canvas rect={[0, 0, 1060, 1265]} build={buildCircos} />
      <Canvas rect={rectB} build={(c) => buildB(c, rectB)} />
      <Canvas rect={rectC} build={(c) => buildC(c, rectC)} />
      <Canvas
        rect={rectD}
        build={(c) =>
          buildEffect(c, rectD, {
            plot: [1184.3, 669, 1450, 880.5],
            xmin: -1.037, xmax: 0.599, ymin: 0.41, ymax: 3.6,
            xticks: ticksDX, effect: effectD, low: lowD, high: highD, color: colorD,
            dash: [14, 5], xpad: 3, ypad: 19,
            texts: [
              { t: "D", x: 1075, y: 611, f: `bold 25px ${FONT}` },
              { t: "rs4283211-BRCA_162467-IDH2", x: 1312, y: 652, f: `24.1px ${FONT}` },
              { t: "effect size", x: 1315, y: 927, f: `24px ${FONT}` },
            ],
          })
        }
      />
      <Canvas
        rect={rectE}
        build={(c) =>
          buildEffect(c, rectE, {
            plot: [1184.3, 999.8, 1450, 1212],
            xmin: -1.376, xmax: 0.218, ymin: 0.404, ymax: 3.607,
            xticks: ticksEX, effect: effectE, low: lowE, high: highE, color: colorE,
            dash: [6, 4], xpad: 2, ypad: 22,
            texts: [
              { t: "E", x: 1074, y: 958, f: `bold 25px ${FONT}` },
              { t: "rs2071487-BRCA_9060-GSTM1", x: 1314, y: 983, f: `24.1px ${FONT}` },
              { t: "effect size", x: 1315, y: 1253, f: `24px ${FONT}` },
            ],
          })
        }
      />
    </div>
  );
}
